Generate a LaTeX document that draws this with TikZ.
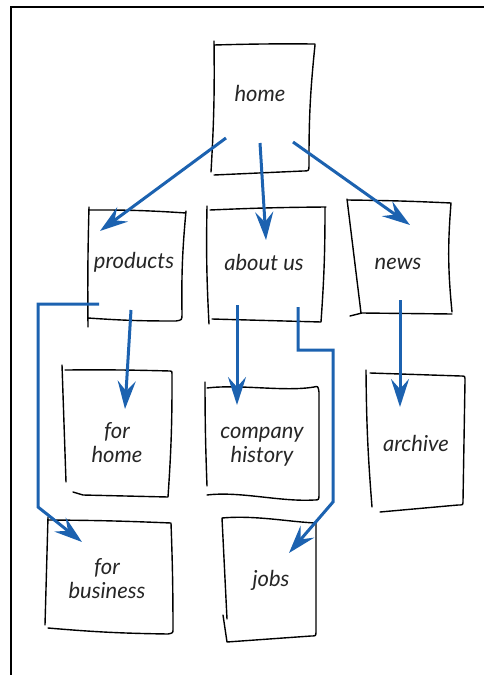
\documentclass[tikz,border=0pt]{standalone}
\usepackage{fontspec}
\setmainfont{Lato}
\usetikzlibrary{calc}
\usetikzlibrary{arrows.meta}

\definecolor{linkblue}{RGB}{28,98,176}

\tikzset{
  pen/.style={line width=0.7pt, line cap=round, line join=round},
  boxtext/.style={font=\itshape\fontsize{11}{12}\selectfont, align=center, text=black!85, inner sep=0pt},
  navlink/.style={linkblue, line width=1.5pt, -{Stealth[length=14pt,width=9pt,inset=5pt]}},
  frame/.style={line width=0.6pt}
}

\begin{document}
\begin{tikzpicture}[x=0.5pt,y=-0.5pt]
	\useasboundingbox (0,0) rectangle (484,675);
	\draw[frame] (11,675) -- (11,7) -- (484,7);

	% hand drawn page boxes
	\draw[pen] (214,41) to[bend left=2] (211,172)
		(214,45) to[bend left=1] (315,44) -- (315,47)
		(315,45) to[bend right=3] (309,165) .. controls (309,171) .. (303,171) -- (214,175);
	\draw[pen] (89,207) to[bend right=1] (88,327)
		(89,210) to[bend left=2] (186,213)
		(186,211) to[bend right=3] (182,314) .. controls (182,320) .. (176,321) to[bend left=2] (88,318);
	\draw[pen] (207,206) to[bend right=2] (209,324)
		(210,210) to[bend left=1] (326,207)
		(325,207) to[bend left=2] (321,322)
		(212,319) -- (321,322);
	\draw[pen] (347,199) -- (361,313)
		(347,200) to[bend left=1] (451,203) to[bend right=5] (452,312)
		(350,316) -- (362,313) -- (452,314);
	\draw[pen] (62,365) -- (66,482)
		(65,370) to[bend left=1] (170,371) .. controls (172,371) .. (172,374) to[bend left=2] (168,497)
		(73,492) -- (83,495) -- (168,497);
	\draw[pen] (205,382) to[bend right=1] (207,486)
		(207,388) .. controls (240,384) and (285,392) .. (314,387) .. controls (318,386) .. (319,392) -- (319,494) .. controls (319,500) .. (314,500)
		(207,495) .. controls (240,491) and (280,502) .. (314,500);
	\draw[pen] (366,370) to[bend right=2] (372,507)
		(370,373) -- (461,376) .. controls (465,376) .. (465,381) -- (463,501) .. controls (463,505) .. (458,505) -- (380,512);
	\draw[pen] (48,517) -- (45,625)
		(48,520) to[bend left=1] (171,523) to[bend left=1] (173,629) .. controls (173,633) .. (168,634) to[bend left=2] (48,628);
	\draw[pen] (222,518) .. controls (255,515) and (290,522) .. (316,523) -- (316,631) .. controls (316,636) .. (311,636) -- (227,642) -- (223,615)
		(222,518) -- (227,619);

	% page names
	\node[boxtext] (home) at (260,93) {home};
	\node[boxtext] (products) at (134,262) {products};
	\node[boxtext] (about) at (264,262) {about us};
	\node[boxtext] (news) at (398,264) {news};
	\node[boxtext] (forhome) at (117,443) {for\\home};
	\node[boxtext] (history) at (262,447) {company\\history};
	\node[boxtext] (archive) at (416,443) {archive};
	\node[boxtext] (business) at (107,579) {for\\business};
	\node[boxtext] (jobs) at (271,580) {jobs};

	% links
	\draw[navlink] ($(home)+(-34,45)$) -- ($(products)+(-34,-31)$);
	\draw[navlink] ($(home)+(0,50)$) -- ($(about)+(2,-22)$);
	\draw[navlink] ($(home)+(33,49)$) -- ($(news)+(12,-39)$);
	\draw[navlink] ($(products)+(-3,48)$) -- ($(forhome)+(8,-34)$);
	\draw[navlink] ($(products)+(-35,42)$) -- ++(-61,0) -- ++(0,203) -- ($(business)+(-25,-37)$);
	\draw[navlink] ($(about)+(-27,43)$) -- ($(history)+(-25,-42)$);
	\draw[navlink] ($(about)+(34,45)$) -- ++(0,43) -- ++(35,0) -- ++(0,152) -- ($(jobs)+(18,-27)$);
	\draw[navlink] ($(news)+(2,36)$) -- ($(archive)+(-16,-36)$);
\end{tikzpicture}
\end{document}
